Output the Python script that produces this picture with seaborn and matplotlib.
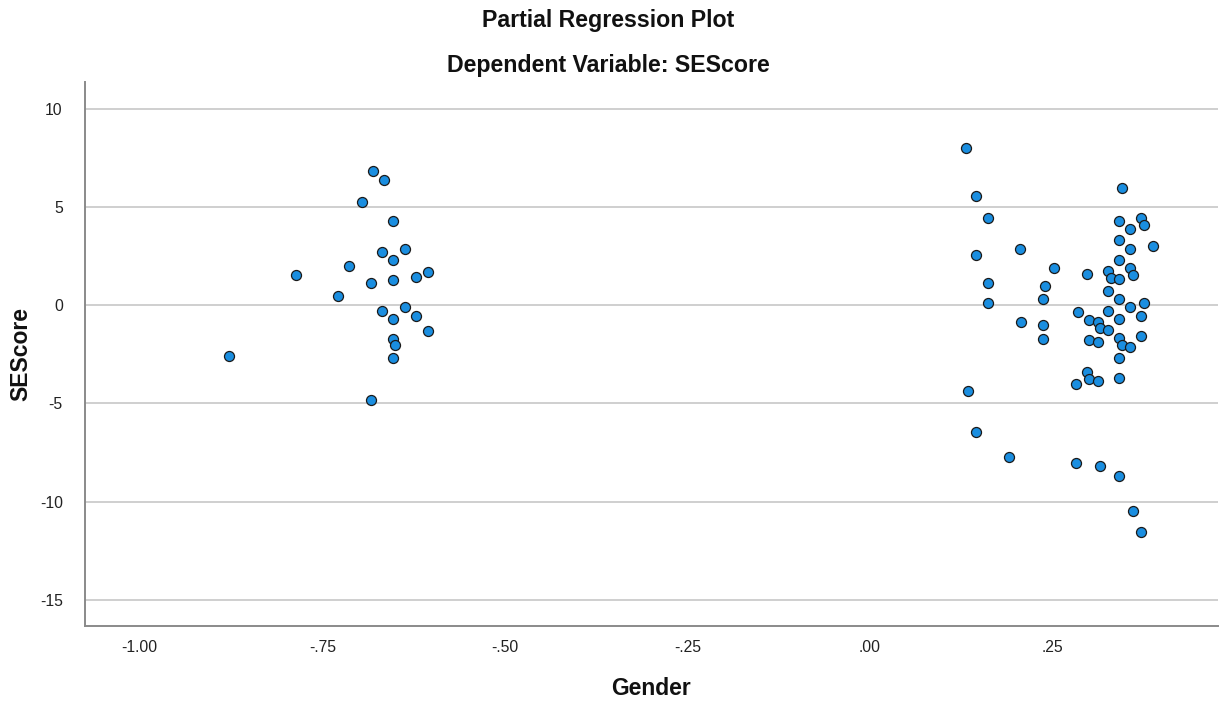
import matplotlib
matplotlib.use("Agg")
import matplotlib.pyplot as plt
import seaborn as sns
import pandas as pd

# ---- data ----
gender_left = [-0.680, -0.665, -0.695, -0.653, -0.668, -0.637, -0.653, -0.713,
               -0.786, -0.683, -0.653, -0.622, -0.605, -0.728, -0.668, -0.637,
               -0.653, -0.622, -0.605, -0.653, -0.650, -0.653, -0.878, -0.683]
score_left = [6.84, 6.40, 5.27, 4.32, 2.74, 2.90, 2.32, 2.03,
              1.54, 1.16, 1.31, 1.46, 1.69, 0.46, -0.28, -0.10,
              -0.70, -0.53, -1.32, -1.69, -2.03, -2.70, -2.56, -4.83]

gender_right = [0.132, 0.146, 0.162, 0.146, 0.162, 0.162, 0.206, 0.252,
                0.240, 0.237, 0.207, 0.237, 0.285, 0.297, 0.345, 0.342,
                0.372, 0.375, 0.357, 0.342, 0.357, 0.388, 0.342, 0.357,
                0.360, 0.327, 0.330, 0.342, 0.327, 0.342, 0.357, 0.375,
                0.327, 0.342, 0.372, 0.300, 0.312, 0.315, 0.327, 0.237,
                0.300, 0.312, 0.342, 0.345, 0.357, 0.372, 0.342, 0.297,
                0.300, 0.312, 0.282, 0.342, 0.134, 0.146, 0.191, 0.282,
                0.315, 0.342, 0.360, 0.372]
score_right = [8.04, 5.60, 4.45, 2.58, 1.14, 0.13, 2.88, 1.89,
               0.97, 0.31, -0.84, -0.99, -0.33, 1.59, 5.99, 4.33,
               4.47, 4.11, 3.89, 3.33, 2.90, 3.04, 2.34, 1.93,
               1.55, 1.76, 1.41, 1.33, 0.75, 0.32, -0.10, 0.12,
               -0.26, -0.69, -0.53, -0.75, -0.84, -1.15, -1.26, -1.69,
               -1.76, -1.84, -1.67, -2.03, -2.12, -1.54, -2.70, -3.40,
               -3.74, -3.84, -3.98, -3.71, -4.35, -6.44, -7.73, -8.01,
               -8.19, -8.70, -10.50, -11.57]

x_ticks = [-1.00, -0.75, -0.50, -0.25, 0.00, 0.25]
x_tick_labels = ["-1.00", "-.75", "-.50", "-.25", ".00", ".25"]
y_ticks = [10, 5, 0, -5, -10, -15]
y_tick_labels = ["10", "5", "0", "-5", "-10", "-15"]

title_line1 = "Partial Regression Plot"
title_line2 = "Dependent Variable: SEScore"
x_label = "Gender"
y_label = "SEScore"

df = pd.DataFrame({
    "Gender": gender_left + gender_right,
    "SEScore": score_left + score_right,
})

# ---- style ----
sns.set_theme(style="white")
plt.rcParams["font.family"] = ["Liberation Sans", "DejaVu Sans"]

W, H = 1221, 705
fig = plt.figure(figsize=(W / 100, H / 100), dpi=100)
ax_left, ax_right, ax_top, ax_bottom = 85, 1218, 82, 626
ax = fig.add_axes([ax_left / W, (H - ax_bottom) / H,
                   (ax_right - ax_left) / W, (ax_bottom - ax_top) / H])

ax.set_axisbelow(True)
ax.yaxis.grid(True, color="#cfcfcf", linewidth=1.4)
ax.xaxis.grid(False)

sns.scatterplot(data=df, x="Gender", y="SEScore", ax=ax,
                s=52, color="#1a8ee0", edgecolor="#1a1a1a", linewidth=0.9,
                zorder=3, legend=False)

ax.set_xlim(-1.075, 0.477)
ax.set_ylim(-16.35, 11.4)
ax.set_xticks(x_ticks)
ax.set_xticklabels(x_tick_labels)
ax.set_yticks(y_ticks)
ax.set_yticklabels(y_tick_labels)
ax.tick_params(axis="both", length=0, labelsize=11.3, colors="#222222")
ax.tick_params(axis="x", pad=10)
ax.tick_params(axis="y", pad=16)

for side in ["top", "right"]:
    ax.spines[side].set_visible(False)
for side in ["left", "bottom"]:
    ax.spines[side].set_color("#8a8a8a")
    ax.spines[side].set_linewidth(1.4)

ax_w = ax_right - ax_left
ax_h = ax_bottom - ax_top
ax.set_xlabel(x_label, fontsize=16.5, fontweight="bold", color="#111111")
ax.xaxis.label.set_va("baseline")
ax.xaxis.set_label_coords(0.5, (ax_bottom - 695) / ax_h)
ax.set_ylabel(y_label, fontsize=16.5, fontweight="bold", color="#111111")
ax.yaxis.label.set_va("center")
ax.yaxis.set_label_coords((21 - ax_left) / ax_w, 0.5)

fig.text(608 / W, 1 - 27 / H, title_line1, ha="center", va="baseline",
         fontsize=16.7, fontweight="bold", color="#111111")
fig.text(608 / W, 1 - 72 / H, title_line2, ha="center", va="baseline",
         fontsize=16.7, fontweight="bold", color="#111111")

fig.savefig("out.png", dpi=100)
